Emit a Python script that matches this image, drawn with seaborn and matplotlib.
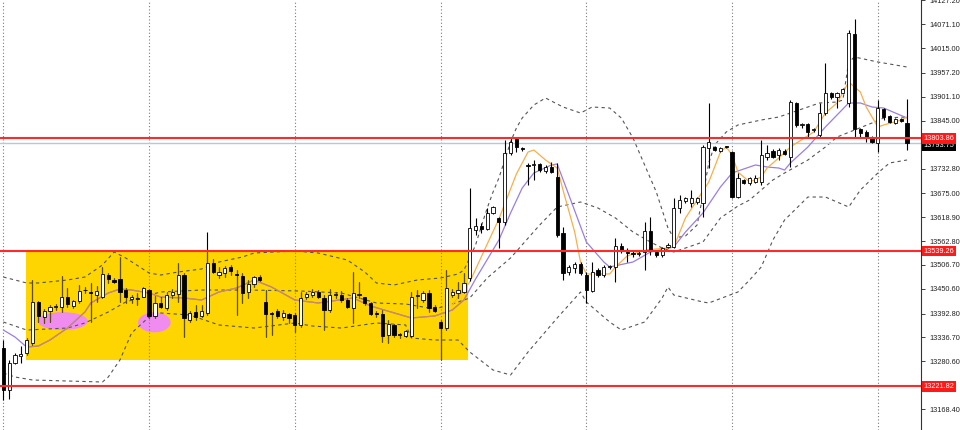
import matplotlib
matplotlib.use("Agg")
import matplotlib.pyplot as plt
from matplotlib.patches import Rectangle, Ellipse
import numpy as np
import pandas as pd
import seaborn as sns

# candles, left to right
opens = [13311.9, 13213.4, 13277.5, 13293.2, 13299.5, 13324.4, 13420.5, 13385.4, 13398.7, 13408.0,
         13408.8, 13430.8, 13411.2, 13422.2, 13446.8, 13442.6, 13436.2, 13430.8, 13483.1, 13471.4,
         13473.0, 13448.0, 13426.1, 13428.0, 13432.2, 13448.0, 13387.0, 13416.7, 13405.0, 13436.2,
         13437.9, 13483.1, 13377.6, 13397.1, 13387.0, 13393.3, 13512.0, 13483.1, 13487.1, 13501.2,
         13484.3, 13480.8, 13442.6, 13461.3, 13479.1, 13420.5, 13394.0, 13399.4, 13385.4, 13391.7,
         13389.3, 13365.9, 13430.8, 13436.2, 13442.6, 13428.5, 13401.1, 13436.7, 13436.2, 13424.5,
         13405.0, 13436.7, 13430.8, 13418.2, 13394.0, 13391.7, 13342.4, 13365.9, 13341.7, 13340.1,
         13340.1, 13433.9, 13424.5, 13440.2, 13408.8, 13373.6, 13358.1, 13436.2, 13440.2, 13444.0,
         13476.1, 13588.7, 13598.0, 13590.3, 13629.2, 13616.1, 13608.1, 13768.5, 13801.4, 13781.0,
         13741.1, 13741.8, 13742.7, 13727.7, 13737.1, 13713.6, 13580.9, 13490.9, 13498.8, 13508.2,
         13483.1, 13446.3, 13494.9, 13483.1, 13501.9, 13502.6, 13551.8, 13536.4, 13534.8, 13533.5,
         13537.8, 13587.0, 13537.8, 13530.0, 13549.5, 13549.5, 13639.5, 13657.4, 13652.7, 13655.0,
         13651.3, 13780.2, 13784.0, 13773.9, 13784.5, 13772.3, 13666.7, 13706.0, 13698.2, 13702.0,
         13702.0, 13759.1, 13774.6, 13764.5, 13774.6, 13760.5, 13887.2, 13834.2, 13837.2, 13822.5,
         13811.4, 13862.3, 13910.6, 13899.8, 13910.6, 13885.8, 14048.3, 13824.8, 13819.2, 13807.4,
         13793.4, 13871.7, 13856.0, 13840.3, 13848.2, 13840.3]
highs = [13330.7, 13283.8, 13300.9, 13316.6, 13335.4, 13471.4, 13422.2, 13403.4, 13412.0, 13415.1,
         13480.8, 13451.9, 13424.5, 13459.7, 13455.7, 13463.6, 13458.0, 13502.6, 13487.1, 13475.4,
         13526.0, 13451.9, 13436.2, 13440.2, 13454.3, 13449.6, 13433.9, 13432.2, 13444.0, 13450.3,
         13510.6, 13487.1, 13399.4, 13412.8, 13412.8, 13584.0, 13519.9, 13502.6, 13504.2, 13506.6,
         13494.9, 13487.1, 13471.4, 13480.8, 13483.1, 13448.0, 13397.1, 13402.7, 13401.1, 13394.7,
         13393.3, 13444.0, 13444.0, 13449.6, 13448.0, 13436.2, 13449.6, 13444.0, 13446.3, 13428.5,
         13489.5, 13467.4, 13432.2, 13420.5, 13399.4, 13401.1, 13377.6, 13368.2, 13347.8, 13354.2,
         13444.0, 13448.0, 13446.3, 13448.0, 13412.8, 13377.6, 13494.9, 13449.6, 13467.4, 13487.1,
         13686.4, 13616.1, 13604.4, 13639.5, 13644.9, 13619.8, 13799.7, 13804.4, 13804.4, 13782.6,
         13745.1, 13752.8, 13746.5, 13741.1, 13748.8, 13746.5, 13596.4, 13506.6, 13514.3, 13514.3,
         13490.9, 13514.3, 13498.8, 13506.6, 13507.7, 13569.2, 13557.5, 13545.7, 13541.8, 13540.1,
         13608.1, 13619.8, 13541.8, 13549.5, 13557.5, 13663.0, 13670.7, 13666.7, 13682.5, 13666.7,
         13788.0, 13887.2, 13785.6, 13784.0, 13785.6, 13774.6, 13721.6, 13707.5, 13713.6, 13717.6,
         13799.7, 13788.0, 13777.9, 13780.2, 13777.9, 13893.5, 13889.5, 13838.9, 13838.9, 13827.1,
         13885.8, 13981.0, 13913.0, 13913.0, 13920.9, 14057.7, 14082.7, 13827.1, 13823.2, 13809.1,
         13893.5, 13874.0, 13858.3, 13850.6, 13850.6, 13895.1]
lows = [13190.0, 13192.3, 13274.4, 13277.5, 13295.5, 13319.0, 13373.6, 13369.9, 13373.6, 13401.1,
        13397.1, 13408.8, 13405.0, 13418.2, 13440.2, 13373.6, 13420.5, 13428.5, 13463.6, 13463.6,
        13420.5, 13416.7, 13416.7, 13412.8, 13430.8, 13381.6, 13381.6, 13405.0, 13401.1, 13429.2,
        13420.5, 13338.4, 13373.6, 13377.6, 13383.9, 13389.3, 13487.1, 13475.4, 13479.1, 13483.1,
        13389.3, 13416.7, 13428.5, 13455.7, 13469.8, 13338.4, 13342.4, 13381.6, 13377.6, 13369.9,
        13349.5, 13361.9, 13426.1, 13432.2, 13428.5, 13354.2, 13397.1, 13428.5, 13420.5, 13405.0,
        13369.9, 13428.5, 13412.8, 13389.3, 13383.9, 13326.7, 13323.0, 13338.4, 13334.7, 13338.4,
        13338.4, 13405.8, 13420.5, 13397.1, 13397.1, 13283.8, 13354.2, 13432.2, 13428.5, 13440.2,
        13469.1, 13576.9, 13580.9, 13588.7, 13626.2, 13545.7, 13600.4, 13764.5, 13772.3, 13774.6,
        13694.2, 13706.0, 13725.4, 13723.0, 13721.6, 13573.0, 13471.4, 13483.1, 13487.1, 13483.1,
        13416.7, 13444.0, 13479.1, 13479.1, 13496.5, 13467.4, 13534.0, 13514.3, 13526.0, 13527.7,
        13494.9, 13530.0, 13526.0, 13526.0, 13545.7, 13545.7, 13627.8, 13651.3, 13643.3, 13649.6,
        13619.8, 13733.3, 13774.6, 13772.3, 13782.1, 13663.0, 13663.0, 13696.5, 13694.2, 13698.2,
        13694.2, 13752.8, 13756.8, 13752.8, 13764.5, 13737.1, 13830.9, 13827.1, 13807.4, 13819.2,
        13807.4, 13858.3, 13895.1, 13874.0, 13909.2, 13877.8, 13807.4, 13807.4, 13795.7, 13793.4,
        13772.3, 13846.6, 13838.9, 13837.2, 13842.6, 13776.3]
closes = [13213.4, 13276.8, 13295.5, 13297.2, 13330.7, 13419.1, 13387.0, 13398.7, 13407.4, 13410.4,
          13430.8, 13414.4, 13422.2, 13446.3, 13449.1, 13440.2, 13446.3, 13484.8, 13473.0, 13467.4,
          13444.0, 13432.2, 13432.2, 13429.2, 13451.9, 13387.0, 13416.7, 13408.8, 13436.2, 13443.3,
          13483.1, 13381.6, 13394.7, 13385.4, 13398.7, 13512.0, 13490.9, 13490.9, 13498.8, 13493.2,
          13482.0, 13440.2, 13461.3, 13477.7, 13471.4, 13391.7, 13392.4, 13387.0, 13394.7, 13381.6,
          13365.9, 13428.5, 13437.9, 13444.0, 13430.8, 13401.1, 13436.2, 13438.6, 13424.5, 13408.8,
          13440.2, 13438.6, 13416.7, 13391.7, 13392.4, 13340.1, 13368.2, 13342.4, 13343.1, 13352.5,
          13430.8, 13436.2, 13440.2, 13405.0, 13399.4, 13358.1, 13451.9, 13444.0, 13448.0, 13463.6,
          13592.6, 13598.0, 13590.3, 13629.2, 13641.9, 13608.1, 13768.5, 13795.7, 13782.6, 13779.3,
          13739.5, 13743.4, 13729.4, 13737.1, 13725.4, 13576.9, 13487.1, 13502.6, 13509.0, 13487.1,
          13448.0, 13490.9, 13483.1, 13502.6, 13503.5, 13551.8, 13540.1, 13534.8, 13533.1, 13534.8,
          13587.0, 13541.8, 13530.0, 13545.7, 13553.5, 13639.5, 13659.0, 13663.0, 13663.0, 13663.0,
          13784.0, 13795.7, 13776.3, 13781.6, 13783.3, 13666.7, 13709.9, 13698.2, 13709.9, 13709.9,
          13764.5, 13769.9, 13760.5, 13776.3, 13766.9, 13889.5, 13834.9, 13835.6, 13819.2, 13823.9,
          13862.3, 13909.2, 13899.8, 13910.6, 13918.6, 14049.9, 13824.8, 13815.4, 13806.0, 13795.7,
          13874.0, 13854.3, 13842.6, 13848.2, 13844.9, 13793.75]

# bollinger bands (read at bar positions)
upper_bar = [0, 4, 6, 11, 14, 17, 19, 21, 25, 27, 30, 34, 37, 41, 43, 50, 54, 59, 62, 64, 67, 71,
             75, 78, 79, 80, 81, 82, 83, 84, 85, 86, 87, 88, 89, 91, 93, 96, 99, 101, 104, 106,
             108, 110, 112, 114, 115, 117, 119, 120, 121, 122, 124, 126, 130, 133, 138, 140, 143,
             144, 145, 146, 150, 155]
upper_val = [13478.4, 13464.4, 13464.4, 13471.4, 13478.4, 13506.6, 13537.1, 13523.0, 13487.8,
             13483.1, 13490.2, 13497.2, 13513.6, 13525.3, 13534.7, 13539.4, 13534.7, 13518.3,
             13490.2, 13464.4, 13459.7, 13471.4, 13476.1, 13485.5, 13494.8, 13523.0, 13553.5,
             13598.0, 13640.2, 13677.8, 13710.6, 13752.8, 13795.0, 13827.8, 13851.3, 13881.8,
             13898.2, 13877.1, 13863.0, 13877.1, 13874.7, 13851.3, 13804.4, 13741.1, 13677.8,
             13593.3, 13569.9, 13574.6, 13600.4, 13670.7, 13745.8, 13788.0, 13818.5, 13834.9,
             13846.6, 13853.6, 13877.1, 13886.5, 13888.8, 13893.5, 13982.6, 13994.3, 13982.6,
             13970.9]
middle_bar = [0, 4, 11, 14, 18, 21, 25, 27, 34, 42, 51, 58, 64, 69, 74, 77, 80, 83, 87, 92, 95,
              99, 102, 105, 108, 111, 113, 115, 117, 120, 123, 126, 128, 132, 134, 138, 141, 143,
              146, 149, 151, 155]
middle_val = [13372.9, 13354.1, 13358.8, 13370.6, 13396.4, 13419.8, 13436.2, 13443.3, 13447.9,
              13447.9, 13445.6, 13440.9, 13417.5, 13415.1, 13403.4, 13415.1, 13429.2, 13476.1,
              13523.0, 13600.4, 13642.6, 13654.3, 13640.2, 13616.8, 13584.0, 13560.5, 13546.4,
              13537.1, 13546.4, 13560.5, 13616.8, 13644.9, 13659.0, 13705.9, 13722.3, 13752.8,
              13783.3, 13806.7, 13823.1, 13839.6, 13851.3, 13853.6]
lower_bar = [0, 2, 5, 17, 18, 20, 22, 25, 27, 32, 37, 43, 50, 53, 58, 64, 69, 70, 74, 78, 80, 84,
             87, 90, 95, 99, 100, 104, 106, 110, 113, 114, 115, 120, 121, 126, 128, 130, 132, 133,
             134, 138, 141, 145, 147, 150, 152, 155]
lower_val = [13253.3, 13243.9, 13236.9, 13232.2, 13243.9, 13283.8, 13347.1, 13384.6, 13394.0,
             13389.3, 13365.9, 13358.8, 13370.6, 13363.5, 13358.8, 13370.6, 13365.9, 13335.4,
             13330.7, 13330.7, 13302.6, 13260.3, 13248.6, 13302.6, 13382.3, 13443.3, 13419.8,
             13372.9, 13354.1, 13372.9, 13429.2, 13455.0, 13436.2, 13419.8, 13417.5, 13443.3,
             13471.4, 13501.9, 13565.2, 13588.6, 13612.1, 13666.0, 13666.0, 13642.6, 13682.4,
             13722.3, 13745.8, 13752.8]

# moving averages
slow_bar = [0, 2, 4, 6, 8, 11, 14, 15, 18, 20, 22, 25, 27, 31, 34, 37, 40, 43, 46, 50, 54, 60,
            63, 70, 74, 77, 79, 81, 85, 87, 89, 91, 94, 95, 97, 100, 103, 104, 108, 111, 115, 117,
            120, 123, 125, 129, 131, 133, 134, 135, 138, 141, 145, 147, 149, 151, 155]
slow_val = [13354.1, 13337.7, 13314.3, 13316.6, 13330.7, 13358.8, 13396.4, 13417.5, 13440.9,
            13450.3, 13447.9, 13440.9, 13431.5, 13429.2, 13424.5, 13443.3, 13452.6, 13471.4,
            13455.0, 13424.5, 13417.5, 13429.2, 13410.4, 13382.3, 13387.0, 13401.0, 13424.5,
            13473.7, 13565.2, 13628.5, 13687.1, 13722.3, 13741.1, 13743.4, 13670.7, 13560.5,
            13513.6, 13501.9, 13513.6, 13537.1, 13548.8, 13584.0, 13628.5, 13689.5, 13722.3,
            13741.1, 13736.4, 13734.0, 13729.3, 13745.8, 13783.3, 13830.2, 13886.5, 13886.5,
            13877.1, 13874.7, 13851.3]
fast_bar = [77, 80, 83, 85, 88, 90, 91, 93, 95, 96, 98, 99, 100, 104, 105, 107, 110, 114, 115,
            117, 121, 123, 124, 125, 126, 128, 130, 131, 133, 135, 139, 141, 143, 145, 147, 148,
            150, 151, 154, 155]
fast_val = [13412.8, 13466.7, 13555.8, 13614.4, 13720.0, 13771.6, 13776.2, 13752.8, 13734.0,
            13682.4, 13584.0, 13513.6, 13485.5, 13485.5, 13501.9, 13527.7, 13541.7, 13546.4,
            13548.8, 13616.8, 13701.2, 13771.6, 13783.3, 13764.5, 13724.7, 13701.2, 13712.9,
            13734.0, 13757.5, 13783.3, 13818.5, 13863.0, 13886.5, 13935.7, 13912.3, 13877.1,
            13830.2, 13834.9, 13846.6, 13853.6]

levels = [13803.86, 13539.26, 13221.82]
last_price = 13793.75
yticks = [14127.20, 14071.10, 14015.00, 13957.20, 13901.10, 13845.00, 13732.80, 13675.00,
          13618.90, 13562.80, 13506.70, 13450.60, 13392.80, 13336.70, 13280.60, 13168.40]

df = pd.DataFrame({"open": opens, "high": highs, "low": lows, "close": closes})
df["bar"] = np.arange(len(df))
up = df[df.close >= df.open]
dn = df[df.close < df.open]

sns.set_style("white")
plt.rcParams['font.family'] = ['Liberation Sans', 'DejaVu Sans']

fig = plt.figure(figsize=(9.6, 4.3), dpi=100)
ax = fig.add_axes([0, 0, 921 / 960, 1])

# range box and the two marks
box = Rectangle((3.9, 13283.8), 75.8, levels[1] - 13283.8, facecolor="#ffd500",
                edgecolor="none", zorder=1)
ax.add_patch(box)
ax.add_patch(Ellipse((10.2, 13375), 8.6, 42, facecolor="#f08cf0", edgecolor="none", zorder=1.2))
ax.add_patch(Ellipse((25.9, 13372), 5.6, 47, facecolor="#f08cf0", edgecolor="none", zorder=1.2))

for g in range(0, 151, 25):
    ax.axvline(g, color="#7a7a7a", lw=0.8, ls=(0, (1, 2)), zorder=1.5)

# bands
for bx, by in [(upper_bar, upper_val), (middle_bar, middle_val), (lower_bar, lower_val)]:
    sns.lineplot(x=bx, y=by, ax=ax, color="#555555", lw=0.8, linestyle=(0, (3, 3)), zorder=2)

# averages, tinted where they cross the box
sns.lineplot(x=slow_bar, y=slow_val, ax=ax, color="#9a7fe0", lw=0.9, zorder=2.5)
sns.lineplot(x=fast_bar, y=fast_val, ax=ax, color="#f5b04a", lw=0.9, zorder=2.6)
ax.plot(slow_bar, slow_val, color="#cf8a5a", lw=0.9, zorder=2.55)[0].set_clip_path(box)

ax.axhline(last_price, color="#b8c8d8", lw=1.0, zorder=2)
for lv in levels:
    ax.axhline(lv, color="#ff2a2a", lw=1.5, zorder=5)

# candles
ax.vlines(df.bar, df.low, df.high, color="black", lw=0.8, zorder=3)
wick_in = ax.vlines(df.bar, df.low, df.high, color="#5e4f08", lw=0.8, zorder=3.1)
wick_in.set_clip_path(box)
ax.bar(up.bar, np.maximum(up.close - up.open, 2.0), bottom=up.open, width=0.55,
       facecolor="white", edgecolor="black", lw=0.6, zorder=4)
ax.bar(dn.bar, np.maximum(dn.open - dn.close, 2.0), bottom=dn.close, width=0.55,
       facecolor="black", edgecolor="black", lw=0.6, zorder=4)

ax.set_xlim(-0.57, 157.4)
ax.set_ylim(13119.65, 14128.0)
ax.set_xticks([])
ax.yaxis.tick_right()
ax.set_yticks(yticks)
ax.set_yticklabels([f"{t:.2f}" for t in yticks])
ax.tick_params(axis="y", length=3, width=0.6, pad=3, labelsize=5.3, colors="#222222")
for s in ["top", "left", "bottom"]:
    ax.spines[s].set_visible(False)
ax.spines["right"].set_color("#333333")
ax.spines["right"].set_linewidth(0.8)

# price tags on the scale
tr = ax.get_yaxis_transform()
ax.text(1.003, last_price - 7, f"{last_price:.2f}", transform=tr, fontsize=5.3, color="white",
        va="center", ha="left", clip_on=False, zorder=6,
        bbox=dict(boxstyle="square,pad=0.25", fc="black", ec="none"))
for lv in levels:
    ax.text(1.003, lv, f"{lv:.2f}", transform=tr, fontsize=5.3, color="white", va="center",
            ha="left", clip_on=False, zorder=7,
            bbox=dict(boxstyle="square,pad=0.25", fc="#ff1a1a", ec="none"))

fig.savefig("out.png", dpi=100)
